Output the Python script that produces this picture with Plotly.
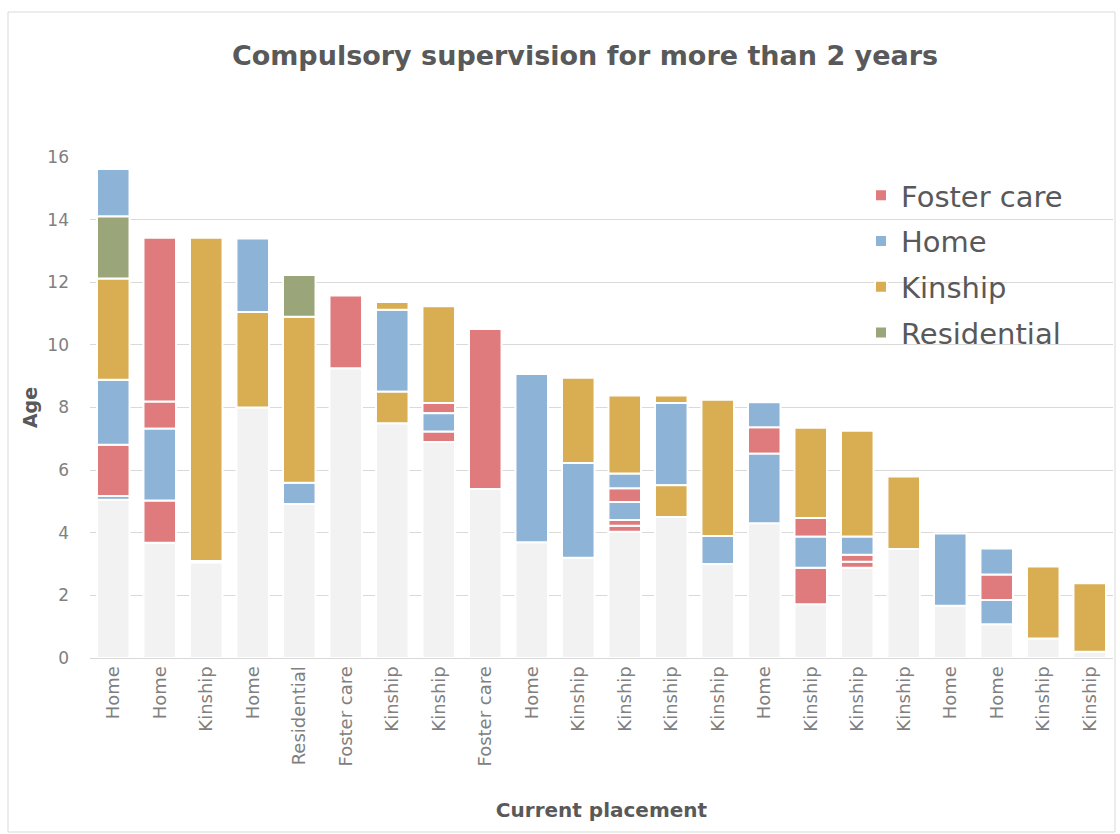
import plotly.graph_objects as go

placements = ["Home", "Home", "Kinship", "Home", "Residential", "Foster care", "Kinship",
              "Kinship", "Foster care", "Home", "Kinship", "Kinship", "Kinship", "Kinship",
              "Home", "Kinship", "Kinship", "Kinship", "Home", "Home", "Kinship", "Kinship"]

# age at start of compulsory supervision (grey base)
start_age = [5.05, 3.68, 3.05, 8.0, 4.92, 9.25, 7.5, 6.9, 5.4, 3.7, 3.2,
             4.03, 4.5, 3.0, 4.3, 1.72, 2.88, 3.48, 1.67, 1.08, 0.62, 0.2]

# placement episodes: bar index, placement type, age from, age to
seg_bar = [0, 0, 0, 0, 0, 0,
           1, 1, 1, 1,
           2,
           3, 3,
           4, 4, 4,
           5,
           6, 6, 6,
           7, 7, 7, 7,
           8,
           9,
           10, 10,
           11, 11, 11, 11, 11, 11,
           12, 12, 12,
           13, 13,
           14, 14, 14,
           15, 15, 15, 15,
           16, 16, 16, 16,
           17,
           18,
           19, 19, 19,
           20,
           21]
seg_type = ["Home", "Foster care", "Home", "Kinship", "Residential", "Home",
            "Foster care", "Home", "Foster care", "Foster care",
            "Kinship",
            "Kinship", "Home",
            "Home", "Kinship", "Residential",
            "Foster care",
            "Kinship", "Home", "Kinship",
            "Foster care", "Home", "Foster care", "Kinship",
            "Foster care",
            "Home",
            "Home", "Kinship",
            "Foster care", "Foster care", "Home", "Foster care", "Home", "Kinship",
            "Kinship", "Home", "Kinship",
            "Home", "Kinship",
            "Home", "Foster care", "Home",
            "Foster care", "Home", "Foster care", "Kinship",
            "Foster care", "Foster care", "Home", "Kinship",
            "Kinship",
            "Home",
            "Home", "Foster care", "Home",
            "Kinship",
            "Kinship"]
seg_start = [5.05, 5.17, 6.81, 8.89, 12.12, 14.1,
             3.68, 5.03, 7.32, 8.19,
             3.1,
             8.0, 11.05,
             4.92, 5.6, 10.9,
             9.25,
             7.5, 8.5, 11.12,
             6.9, 7.23, 7.82, 8.14,
             5.4,
             3.7,
             3.2, 6.23,
             4.03, 4.22, 4.41, 4.98, 5.42, 5.89,
             4.5, 5.52, 8.14,
             3.0, 3.9,
             4.3, 6.52, 7.37,
             1.72, 2.88, 3.87, 4.47,
             2.88, 3.07, 3.3, 3.88,
             3.48,
             1.67,
             1.08, 1.85, 2.67,
             0.62,
             0.2]
seg_end = [5.17, 6.81, 8.89, 12.12, 14.1, 15.62,
           5.03, 7.32, 8.19, 13.42,
           13.42,
           11.05, 13.4,
           5.6, 10.9, 12.23,
           11.58,
           8.5, 11.12, 11.37,
           7.23, 7.82, 8.14, 11.23,
           10.51,
           9.07,
           6.23, 8.95,
           4.22, 4.41, 4.98, 5.42, 5.89, 8.38,
           5.52, 8.14, 8.38,
           3.9, 8.25,
           6.52, 7.37, 8.17,
           2.88, 3.87, 4.47, 7.35,
           3.07, 3.3, 3.88, 7.26,
           5.8,
           3.98,
           1.85, 2.67, 3.5,
           2.92,
           2.39]

types = ["Foster care", "Home", "Kinship", "Residential"]
colors = {"Foster care": "#E07B7D", "Home": "#8DB3D7", "Kinship": "#D9AD52",
          "Residential": "#9AA579"}

fig = go.Figure()
n = len(placements)
fig.add_trace(go.Bar(x=list(range(n)), y=start_age, base=[0] * n, width=0.7,
                     marker=dict(color="#F2F2F2", line=dict(color="white", width=2)),
                     showlegend=False, hoverinfo="skip"))

for t in types:
    xs, bs, hs = [], [], []
    for b, ty, s, e in zip(seg_bar, seg_type, seg_start, seg_end):
        if ty == t:
            xs.append(b)
            bs.append(s)
            hs.append(round(e - s, 3))
    fig.add_trace(go.Bar(x=xs, y=hs, base=bs, width=0.7, name=t, legendgroup=t,
                         marker=dict(color=colors[t], line=dict(color="white", width=2))))

W, H = 1120, 834
L, R, T, B = 90, 1113, 157, 658
pw, ph = R - L, B - T

fig.update_layout(
    width=W, height=H,
    margin=dict(l=L, r=W - R, t=T, b=H - B),
    barmode="overlay",
    plot_bgcolor="white", paper_bgcolor="white",
    font=dict(family="DejaVu Sans", color="#595959"),
    title=dict(text="<b>Compulsory supervision for more than 2 years</b>",
               x=585 / W, xanchor="center", y=1 - 56 / H, yanchor="middle",
               font=dict(size=27, color="#595959")),
    legend=dict(x=(861 - L) / pw, y=(B - 170) / ph, xanchor="left", yanchor="top",
                font=dict(size=29, color="#595959"), bgcolor="rgba(0,0,0,0)",
                tracegroupgap=5, traceorder="grouped"),
    xaxis=dict(range=[-0.5, n - 0.5], tickmode="array", tickvals=list(range(n)),
               ticktext=placements, tickangle=-90, showgrid=False,
               tickfont=dict(size=18, color="#808080"), ticks="",
               showline=True, linecolor="#D9D9D9", linewidth=1, zeroline=False,
               title=dict(text="<b>Current placement</b>", font=dict(size=20, color="#595959"),
                          standoff=37)),
    yaxis=dict(range=[0, 16], dtick=2, showgrid=True, gridcolor="#D9D9D9", gridwidth=1,
               zeroline=False, tickfont=dict(size=17, color="#808080"), ticks="",
               ticklabelstandoff=20,
               title=dict(text="<b>Age</b>", font=dict(size=19, color="#595959"), standoff=4)),
    shapes=[dict(type="rect", xref="paper", yref="paper",
                 x0=(8 - L) / pw, x1=(1115 - L) / pw,
                 y0=(B - 832) / ph, y1=(B - 12) / ph,
                 line=dict(color="#D9D9D9", width=1), fillcolor="rgba(0,0,0,0)", layer="below")],
)

fig.write_html("out.html")
